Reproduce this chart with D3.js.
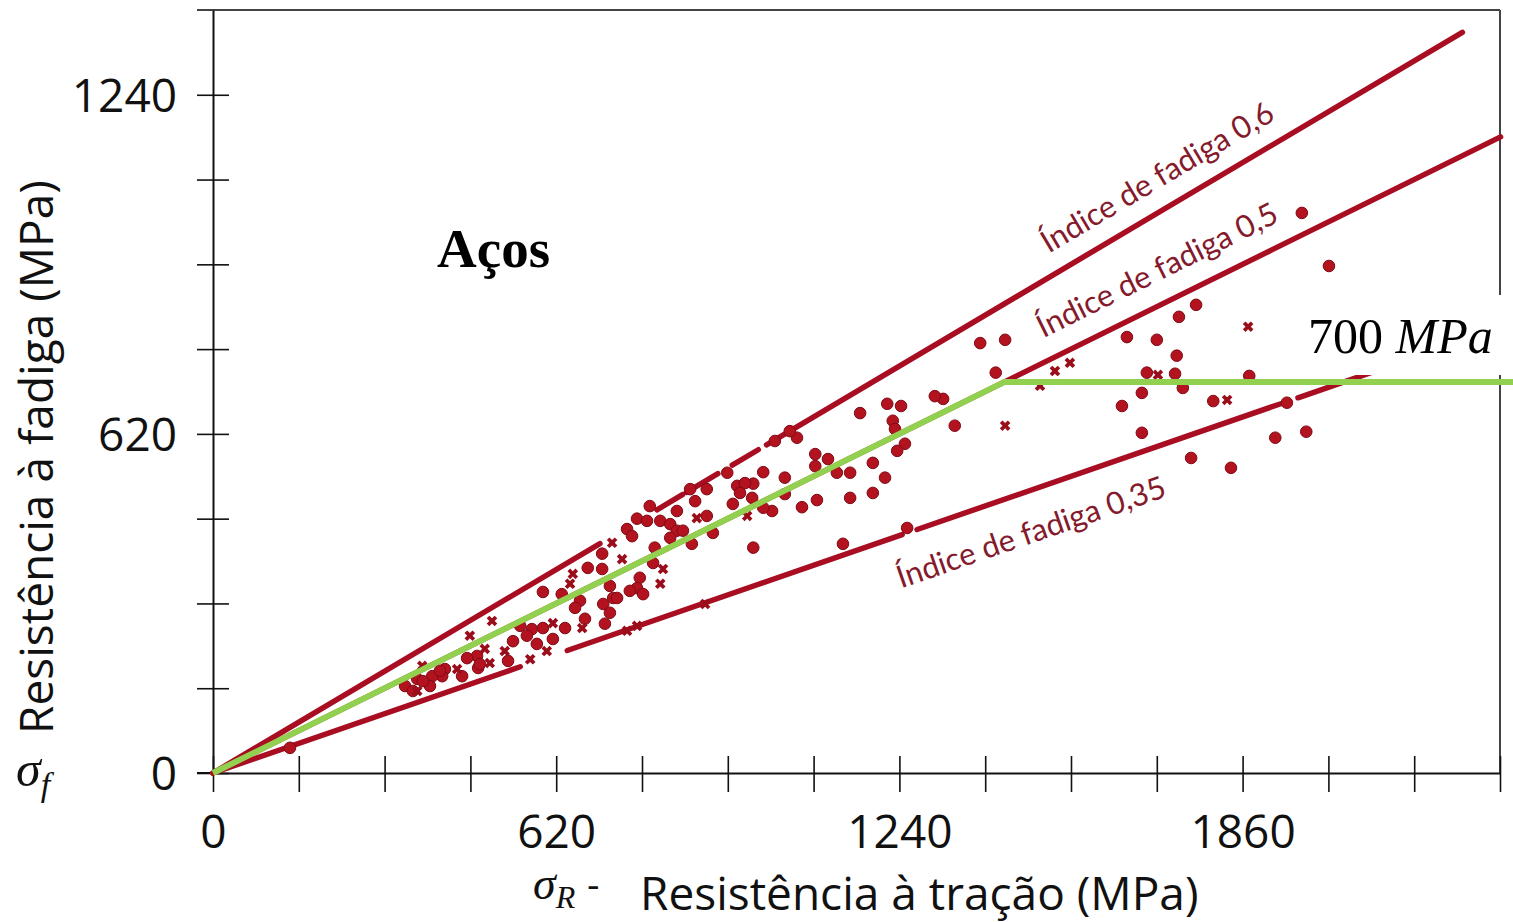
<!DOCTYPE html>
<html><head><meta charset="utf-8">
<script src="https://cdn.jsdelivr.net/npm/d3@7"></script>
<style>body{margin:0;background:#fff;}svg{display:block;}</style>
</head><body>
<svg id="chart" width="1513" height="922"></svg>
<script>
// ---------- data ----------
const xTicks = d3.range(0, 2326, 155);
const yTicks = d3.range(0, 1241, 155);
const xTickLabels = [0, 620, 1240, 1860];
const yTickLabels = [0, 620, 1240];

const fatigueIndex = [0.6, 0.5, 0.35];
const lineSegments = [
  [[0, 699], [802, 848], [855, 912], [938, 985], [1000, 2257]],
  [[0, 2326]],
  [[0, 555], [640, 1245], [1272, 1929], [1960, 2326]]
];
const lineLabels = ["Índice de fadiga 0,6", "Índice de fadiga 0,5", "Índice de fadiga 0,35"];
const lineLabelAtX = [1510, 1500, 1243];

const dotsX = [1967,2016,1776,1745,1651,1705,1741,1687,1738,1872,1752,1678,1642,1807,1940,1678,1919,1975,1767,1839,
  1386,1431,1414,1169,1218,1243,1228,1232,1319,1304,1340,1250,1236,1192,1214,1192,1151,1151,1127,1111,1088,1088,1091,1064,1033,1033,1055,1042,1015,994,976,1010,994,976,1138,1254,
  789,766,748,757,784,808,826,838,838,826,849,865,871,862,892,892,903,929,947,961,952,939,974,
  798,795,771,766,777,753,703,677,703,717,723,705,717,708,672,663,654,636,730,
  596,630,596,576,567,585,542,533,555,477,479,459,419,414,396,392,369,347,450,361,379,410,482,614,139];
const dotsY = [1024,927,856,834,797,792,763,732,730,726,704,695,671,680,677,622,613,624,576,558,
  786,792,732,658,675,671,644,629,684,689,635,602,589,567,540,512,503,549,549,574,561,583,499,486,510,540,613,625,607,550,529,479,485,412,419,448,
  488,465,446,433,461,461,455,479,443,430,443,419,497,519,519,470,439,549,525,530,512,492,503,
  412,384,357,338,327,333,401,375,373,342,320,309,293,273,282,315,302,265,320,
  331,327,265,263,251,236,241,205,269,214,192,210,190,177,177,159,172,159,177,150,168,187,199,245,46];

const crossX = [650,645,667,614,603,573,527,504,464,491,500,441,378,369,748,766,874,965,813,808,739,721,889,1431,1494,1521,1548,1707,1870,1832];
const crossY = [364,346,265,274,223,208,223,278,251,227,201,190,196,150,260,269,466,470,373,346,391,421,309,635,708,735,750,728,816,682];

const designX = [0, 1430, 2350];
const designY = [0, 715, 715];

// ---------- drawing ----------
const svg = d3.select("#chart");
const x = d3.scaleLinear().domain([0, 2325]).range([213, 1500]);
const y = d3.scaleLinear().domain([0, 1395]).range([773, 10]);
const red = "#a80d22", labelRed = "#841a2c", sans = "'Open Sans', sans-serif";

// frame
svg.append("line").attr("x1", 197).attr("x2", x(2325)).attr("y1", y(1395)).attr("y2", y(1395))
  .attr("stroke", "#444").attr("stroke-width", 2);
svg.append("line").attr("x1", x(2325)).attr("x2", x(2325)).attr("y1", y(1395)).attr("y2", y(0))
  .attr("stroke", "#444").attr("stroke-width", 2);
svg.append("line").attr("x1", 197).attr("x2", x(0)).attr("y1", y(0)).attr("y2", y(0))
  .attr("stroke", "#111").attr("stroke-width", 2);

// axes
const gx = svg.append("g").attr("transform", `translate(0,${y(0)})`)
  .call(d3.axisBottom(x).tickValues(xTicks).tickSizeOuter(0)
    .tickFormat(d => xTickLabels.includes(d) ? d : ""));
gx.selectAll(".tick line").attr("y1", -17).attr("y2", 19).attr("stroke", "#111").attr("stroke-width", 1.6);
gx.selectAll(".tick text").attr("y", 42).attr("dy", "0.71em").attr("font-size", 46).attr("font-family", sans).attr("fill", "#111");
gx.select(".domain").attr("stroke", "#111").attr("stroke-width", 2);

const gy = svg.append("g").attr("transform", `translate(${x(0)},0)`)
  .call(d3.axisLeft(y).tickValues(yTicks).tickSizeOuter(0)
    .tickFormat(d => yTickLabels.includes(d) ? d : ""));
gy.selectAll(".tick line").attr("x1", -16).attr("x2", 16).attr("stroke", "#111").attr("stroke-width", 1.6);
gy.selectAll(".tick text").attr("x", -36).attr("dy", "0.36em").attr("font-size", 46).attr("font-family", sans).attr("fill", "#111");
gy.select(".domain").attr("stroke", "#111").attr("stroke-width", 2);

// axis titles
svg.append("text").attr("transform", `translate(53,457) rotate(-90)`).attr("text-anchor", "middle")
  .attr("font-family", sans).attr("font-size", 46).attr("fill", "#111").text("Resistência à fadiga (MPa)");
svg.append("text").attr("x", 640).attr("y", 910).attr("font-family", sans).attr("font-size", 46).attr("fill", "#111")
  .text("Resistência à tração (MPa)");

const sf = svg.append("text").attr("x", 16).attr("y", 786).attr("font-family", "'Liberation Serif', serif")
  .attr("font-style", "italic").attr("font-size", 50).attr("fill", "#111");
sf.append("tspan").text("σ");
sf.append("tspan").attr("dy", 10).attr("font-size", 34).text("f");

const sr = svg.append("text").attr("x", 533).attr("y", 899).attr("font-family", "'Liberation Serif', serif")
  .attr("font-size", 46).attr("fill", "#111");
sr.append("tspan").attr("font-style", "italic").text("σ");
sr.append("tspan").attr("font-style", "italic").attr("dy", 9).attr("font-size", 32).text("R");
sr.append("tspan").attr("dy", -12).attr("dx", 12).attr("font-size", 36).text("-");

// fatigue index lines
const segs = [];
fatigueIndex.forEach((k, i) => lineSegments[i].forEach(s => segs.push({k, a: s[0], b: s[1]})));
svg.append("g").selectAll("line").data(segs).join("line")
  .attr("x1", d => x(d.a)).attr("y1", d => y(d.k * d.a))
  .attr("x2", d => x(d.b)).attr("y2", d => y(d.k * d.b))
  .attr("stroke", red).attr("stroke-width", 5.5).attr("stroke-linecap", "round");

// data points
const pts = dotsX.map((v, i) => [v, dotsY[i]]);
svg.append("g").selectAll("circle").data(pts).join("circle")
  .attr("cx", d => x(d[0])).attr("cy", d => y(d[1])).attr("r", 5.8)
  .attr("fill", "#b3121f").attr("stroke", "#800a16").attr("stroke-width", 1);
const cr = crossX.map((v, i) => [v, crossY[i]]);
const crossSym = d3.symbol().type(d3.symbolCross).size(70);
svg.append("g").selectAll("path").data(cr).join("path")
  .attr("d", crossSym)
  .attr("transform", d => `translate(${x(d[0])},${y(d[1])}) rotate(45)`)
  .attr("fill", "#9a0e1c");

// line labels
const offs = [-23.6, -24.6, 53.5];
fatigueIndex.forEach((k, i) => {
  const ang = Math.atan2(y(k * 1000) - y(0), x(1000) - x(0)) * 180 / Math.PI;
  const px = x(lineLabelAtX[i]), py = y(k * lineLabelAtX[i]) + offs[i];
  svg.append("text").attr("transform", `translate(${px},${py}) rotate(${ang})`)
    .attr("font-family", "Lato, sans-serif").attr("font-size", 31).attr("fill", labelRed)
    .text(lineLabels[i]);
});

// "Aços"
svg.append("text").attr("x", 437).attr("y", 267).attr("font-family", "'Liberation Serif', serif")
  .attr("font-weight", "bold").attr("font-size", 55).attr("fill", "#000").text("Aços");

// annotation box
svg.append("rect").attr("x", 1280).attr("y", 295).attr("width", 233).attr("height", 80).attr("fill", "#fff");

// design line (green)
svg.append("path").datum(designX.map((v, i) => [v, designY[i]]))
  .attr("d", d3.line().x(d => x(d[0])).y(d => y(d[1])))
  .attr("fill", "none").attr("stroke", "#92d050").attr("stroke-width", 6).attr("stroke-linejoin", "round");

const ann = svg.append("text").attr("x", 1308).attr("y", 353).attr("font-family", "'Liberation Serif', serif")
  .attr("font-size", 50).attr("fill", "#000");
ann.append("tspan").text("700 ");
ann.append("tspan").attr("font-style", "italic").text("MPa");
</script>
</body></html>
